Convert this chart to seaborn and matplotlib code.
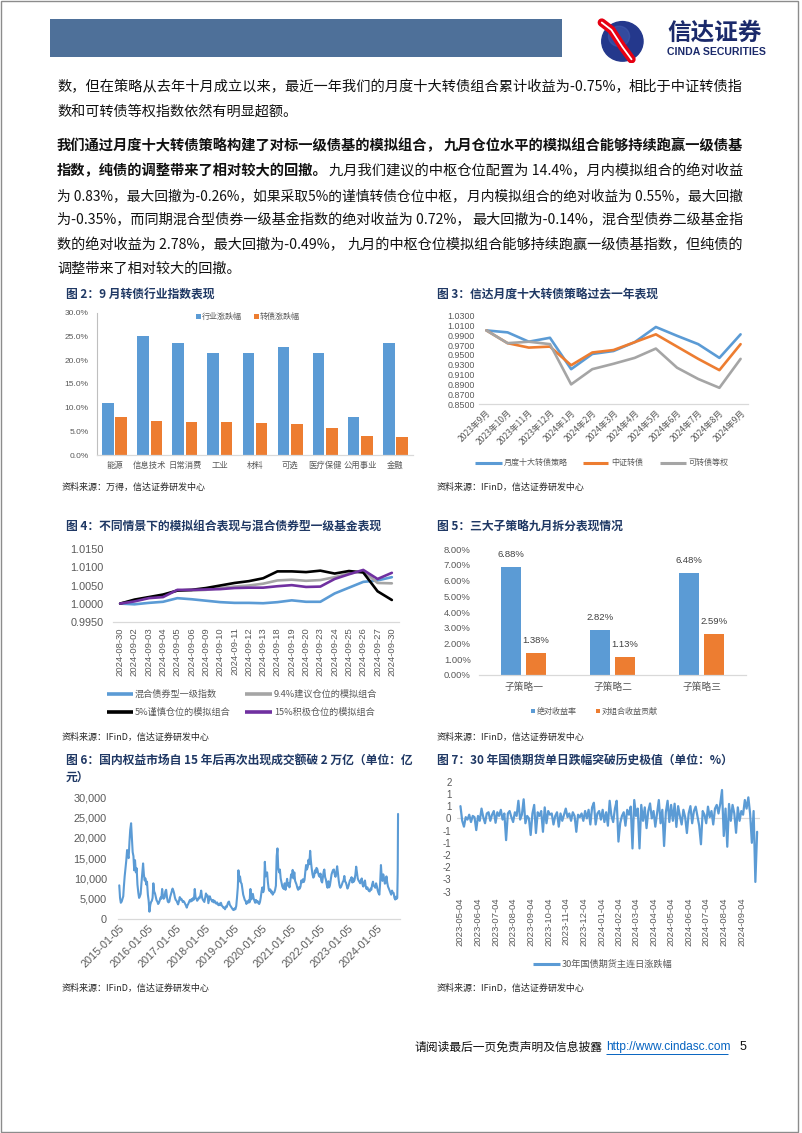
import numpy as np
import pandas as pd
import matplotlib
matplotlib.use('Agg')
import matplotlib.pyplot as plt
import seaborn as sns
from matplotlib.patches import Rectangle, Circle
from matplotlib.lines import Line2D

sns.set_style('white')
plt.rcParams['font.family'] = ['Liberation Sans', 'Noto Sans CJK SC', 'DejaVu Sans']
plt.rcParams['axes.unicode_minus'] = False

# ------------------------------------------------------------------ data
# Fig 2
industries = ['能源', '信息技术', '日常消费', '工业', '材料', '可选', '医疗保健', '公用事业', '金融']
fig2_series = ['行业涨跌幅', '转债涨跌幅']
industry_chg = [10.9, 25.2, 23.7, 21.6, 21.5, 22.8, 21.6, 8.1, 23.6]
cb_chg = [8.0, 7.1, 6.9, 6.9, 6.7, 6.6, 5.6, 4.0, 3.8]
fig2_yticks = [0, 5, 10, 15, 20, 25, 30]

# Fig 3
months3 = ['2023年9月', '2023年10月', '2023年11月', '2023年12月', '2024年1月', '2024年2月',
           '2024年3月', '2024年4月', '2024年5月', '2024年6月', '2024年7月', '2024年8月', '2024年9月']
fig3_series = ['月度十大转债策略', '中证转债', '可转债等权']
strategy = [1.000, 0.996, 0.977, 0.985, 0.921, 0.952, 0.958, 0.976, 1.007, 0.989, 0.972, 0.944, 0.992]
csi_cb = [1.000, 0.974, 0.965, 0.967, 0.929, 0.955, 0.960, 0.976, 0.992, 0.967, 0.942, 0.919, 0.972]
cb_equal = [1.000, 0.974, 0.977, 0.972, 0.890, 0.921, 0.932, 0.944, 0.963, 0.924, 0.901, 0.883, 0.942]
fig3_yticks = [0.85, 0.87, 0.89, 0.91, 0.93, 0.95, 0.97, 0.99, 1.01, 1.03]

# Fig 4
dates4 = ['2024-08-30', '2024-09-02', '2024-09-03', '2024-09-04', '2024-09-05', '2024-09-06',
          '2024-09-09', '2024-09-10', '2024-09-11', '2024-09-12', '2024-09-13', '2024-09-18',
          '2024-09-19', '2024-09-20', '2024-09-23', '2024-09-24', '2024-09-25', '2024-09-26',
          '2024-09-27', '2024-09-30']
fig4_series = ['混合债券型一级指数', '9.4%建议仓位的模拟组合', '5%谨慎仓位的模拟组合', '15%积极仓位的模拟组合']
bond_fund_idx = [1.0000, 0.9998, 1.0002, 1.0005, 1.0015, 1.0012, 1.0008, 1.0004, 1.0002, 1.0002,
                 1.0001, 1.0004, 1.0009, 1.0005, 1.0005, 1.0028, 1.0044, 1.0060, 1.0064, 1.0073]
sim_94 = [1.0000, 1.0009, 1.0016, 1.0023, 1.0036, 1.0036, 1.0038, 1.0043, 1.0047, 1.0050,
          1.0055, 1.0064, 1.0066, 1.0063, 1.0065, 1.0073, 1.0083, 1.0090, 1.0057, 1.0056]
sim_5 = [1.0000, 1.0011, 1.0018, 1.0025, 1.0036, 1.0038, 1.0043, 1.0050, 1.0057, 1.0062,
         1.0070, 1.0089, 1.0089, 1.0087, 1.0091, 1.0083, 1.0090, 1.0086, 1.0034, 1.0010]
sim_15 = [1.0000, 1.0006, 1.0015, 1.0018, 1.0038, 1.0038, 1.0039, 1.0040, 1.0043, 1.0044,
          1.0044, 1.0048, 1.0051, 1.0046, 1.0047, 1.0068, 1.0081, 1.0093, 1.0068, 1.0085]
fig4_yticks = [0.995, 1.000, 1.005, 1.010, 1.015]

# Fig 5
subs = ['子策略一', '子策略二', '子策略三']
fig5_series = ['绝对收益率', '对组合收益贡献']
abs_ret = [6.88, 2.82, 6.48]
contrib = [1.38, 1.13, 2.59]
fig5_yticks = [0, 1, 2, 3, 4, 5, 6, 7, 8]

# Fig 6 : A-share turnover (亿元), three readings per month
t2015 = [8300, 5200, 4000, 4300, 5000, 5600, 8000, 10500, 12500, 14500, 17000, 15500,
         15000, 19000, 22000, 23600, 20000, 16500, 15500, 12000, 14500, 11500, 12500, 8500,
         6500, 5200, 5600, 6200, 8800, 11000, 13700, 11000, 9500, 10000, 8500, 9200]
t2016 = [6000, 4500, 1800, 3500, 4200, 4500, 5200, 8800, 6800, 6300, 5500, 4600,
         4300, 3700, 4000, 4600, 5300, 5000, 7400, 5800, 5000, 5300, 6800, 7200,
         5300, 4300, 4100, 4300, 5400, 6100, 6800, 7500, 7000, 6300, 5300, 4700]
t2017 = [4500, 4000, 3600, 4400, 5400, 4800, 5000, 4700, 4200, 4400, 4100, 3700,
         3300, 2800, 3400, 3800, 4300, 4700, 4300, 4900, 4500, 5200, 4800, 7400,
         5200, 5000, 4500, 4800, 5300, 5100, 5900, 7000, 5400, 4800, 4500, 4200]
t2018 = [5200, 6300, 5600, 5800, 3900, 4800, 5600, 5000, 4700, 4300, 4700, 4100,
         4500, 4000, 3800, 4100, 3600, 3400, 3800, 3400, 4000, 3300, 3100, 2800,
         2800, 2400, 3100, 2900, 3500, 4100, 4300, 3500, 3200, 2900, 2600, 2300]
t2019 = [2200, 2600, 2400, 3200, 5300, 7800, 12000, 9300, 10500, 9000, 8700, 7300,
         6000, 5300, 4700, 4400, 3700, 4300, 4000, 4600, 4100, 7400, 4800, 5200,
         6200, 5100, 4500, 4000, 4700, 4100, 4400, 3900, 3700, 4200, 5300, 6800]
t2020 = [7800, 6600, 7300, 14100, 10500, 11000, 11500, 9000, 7400, 6900, 7300, 6500,
         6800, 6000, 6400, 6600, 7200, 8200, 15500, 17400, 12500, 11500, 12200, 10000,
         9000, 8000, 7600, 7400, 8800, 7200, 8500, 9900, 8200, 8800, 7800, 9200]
t2021 = [11000, 10300, 12100, 10000, 11500, 9400, 9000, 8500, 7700, 7200, 7800, 7500,
         8000, 9500, 9000, 9800, 9100, 9600, 11600, 13300, 12200, 12800, 14600, 13500,
         16800, 14200, 12400, 11000, 10200, 10500, 12000, 11400, 12600, 12300, 11400, 10700]
t2022 = [10400, 11200, 9400, 9000, 10500, 11800, 12200, 10300, 9700, 8400, 7700, 9300,
         7800, 8300, 9600, 11000, 11600, 12100, 12200, 11000, 10400, 11500, 13000, 11400,
         9400, 8200, 7700, 8000, 8500, 9100, 9500, 10600, 9200, 9000, 8200, 7500]
t2023 = [8000, 8800, 9500, 9800, 10300, 9000, 10000, 9200, 9600, 11000, 12900, 11400,
         10000, 9500, 9200, 8800, 9500, 10000, 8500, 8000, 9000, 9500, 8000, 7400,
         7800, 7200, 6900, 6800, 7500, 7200, 8500, 9200, 8200, 8000, 7700, 8800]
t2024 = [8000, 7000, 6400, 6000, 9000, 13300, 10500, 9400, 11000, 10000, 8700, 9000,
         10500, 9000, 8000, 7500, 7000, 6500, 6000, 7000, 6500, 6400, 5200, 4800]
t2024_sep = [5500, 5000, 5200, 9400, 11700, 14400, 25900]
t2024_sep_days = [2, 12, 20, 24, 26, 27, 30]
fig6_ticks = ['2015-01-05', '2016-01-05', '2017-01-05', '2018-01-05', '2019-01-05',
              '2020-01-05', '2021-01-05', '2022-01-05', '2023-01-05', '2024-01-05']
fig6_yticks = [0, 5000, 10000, 15000, 20000, 25000, 30000]

# Fig 7 : 30Y treasury futures daily change (%)
fut_chg = [0.50, -0.10, -0.34, 0.05, -0.05, 0.15, -0.15, 0.10, 0.05, -0.48,
           0.10, -0.10, 0.40, 0.05, -0.20, 0.20, 0.25, -0.10, 0.15, 0.30,
           -0.18, 0.25, 0.10, 0.35, -0.05, 0.20, -0.89, 0.20, 0.30, 0.05,
           -0.15, 0.25, 0.10, 0.72, -0.05, 0.15, 0.78, -0.20, 0.10, 0.00,
           -0.68, 0.20, 0.55, -0.60, 0.25, 0.10, 0.30, -0.55, 0.45, -0.20,
           0.30, 0.15, 0.20, -0.25, 0.10, 0.25, -0.34, 0.20, -0.10, 0.15,
           0.40, 0.05, 0.20, -0.10, 0.25, 0.10, -0.55, 0.15, 0.05, 0.20,
           -0.10, 0.30, 0.00, 0.35, -0.25, 0.45, 0.64, -0.25, 0.20, 0.30,
           -0.05, 0.35, -0.15, 0.25, -0.30, 0.72, 0.10, -0.15, 0.40, 0.72,
           -0.95, -0.20, 0.10, 0.25, -0.30, 0.35, 0.15, 0.48, -1.23, 0.75,
           0.10, 0.40, -1.23, 0.55, -0.10, 0.45, -0.40, 0.30, 0.61, 0.00,
           0.30, -0.34, 0.20, 0.75, -0.20, 0.35, -1.13, 0.25, 0.72, -0.15,
           0.55, -0.10, 0.60, -0.35, 0.50, 0.10, -0.25, 0.35, 0.05, -0.60,
           0.20, 0.50, -0.20, 0.30, 0.48, 0.10, -0.30, -1.06, 0.30, 0.15,
           -0.20, 0.48, 0.05, 0.30, -0.25, 0.40, 0.55, 0.20, 0.60, 1.16,
           -0.72, 0.40, -1.16, 0.59, -0.10, 0.55, 0.20, -0.59, 0.45, -0.10,
           0.30, 0.15, 0.75, 0.40, 0.86, 0.20, -1.00, 0.30, -2.60, -0.55]
fig7_ticks = ['2023-05-04', '2023-06-04', '2023-07-04', '2023-08-04', '2023-09-04', '2023-10-04',
              '2023-11-04', '2023-12-04', '2024-01-04', '2024-02-04', '2024-03-04', '2024-04-04',
              '2024-05-04', '2024-06-04', '2024-07-04', '2024-08-04', '2024-09-04']
fig7_yticks = [-3.0, -2.5, -2.0, -1.5, -1.0, -0.5, 0.0, 0.5, 1.0, 1.5]
fig7_ylabels = ['-3', '-3', '-2', '-2', '-1', '-1', '0', '1', '1', '2']

# ------------------------------------------------------------------ styling
W, H = 802, 1133
BLUE = '#5B9BD5'; ORANGE = '#ED7D31'; GRAY = '#A5A5A5'; PURPLE = '#7030A0'; BLACK = '#000000'
TITLE_C = '#1F3864'; TICK_C = '#595959'; AXIS_C = '#D9D9D9'
CJK = ['Noto Sans CJK SC', 'DejaVu Sans']

fig = plt.figure(figsize=(W / 100, H / 100), dpi=100)
renderer = fig.canvas.get_renderer()


def fy(y):
    return 1 - y / H


def add_ax(l, t, r, b):
    return fig.add_axes([l / W, 1 - b / H, (r - l) / W, (b - t) / H])


def ftext(x, y, s, **kw):
    kw.setdefault('va', 'center')
    return fig.text(x / W, fy(y), s, **kw)


def fline(x0, x1, y, color, lw):
    fig.add_artist(Line2D([x0 / W, x1 / W], [fy(y), fy(y)], color=color, lw=lw,
                          transform=fig.transFigure, solid_capstyle='butt'))


def fsquare(x, y, color, size=5):
    fig.add_artist(Rectangle((x / W, fy(y + size / 2)), size / W, size / H, color=color,
                             transform=fig.transFigure, lw=0))


def style(ax, left=False, fs=7):
    for s in ['top', 'right']:
        ax.spines[s].set_visible(False)
    ax.spines['left'].set_visible(left)
    ax.spines['left'].set_color('#BFBFBF')
    ax.spines['bottom'].set_color(AXIS_C)
    ax.spines['bottom'].set_linewidth(0.9)
    ax.set_xlabel('')
    ax.set_ylabel('')
    ax.tick_params(length=0, colors=TICK_C, labelsize=fs)
    ax.set_facecolor('none')


def title(x, y, s):
    ftext(x, y, s, fontsize=8.5, fontweight='bold', color=TITLE_C, family=CJK)


def source(x, y, s):
    ftext(x, y, s, fontsize=6.5, color='#262626', family=CJK, style='italic')


# ------------------------------------------------------------------ page
fig.add_artist(Rectangle((1 / W, 1 / H), 797 / W, 1131 / H, fill=False, ec='#8C8C8C', lw=1,
                         transform=fig.transFigure))
fig.add_artist(Rectangle((50 / W, fy(57)), 512 / W, 38 / H, color='#4E7099', lw=0,
                         transform=fig.transFigure))
# logo
axl = add_ax(596, 17, 644, 63)
axl.set_xlim(0, 1); axl.set_ylim(0, 1); axl.axis('off')
axl.add_patch(Circle((0.55, 0.47), 0.43, color='#24388C'))
axl.add_patch(Circle((0.48, 0.58), 0.22, color='#4660B5', alpha=0.45))
axl.plot([0.12, 0.32, 0.55, 0.74], [0.88, 0.72, 0.35, 0.08], color='#E60012', lw=6, solid_capstyle='round')
axl.plot([0.12, 0.32, 0.55, 0.74], [0.88, 0.72, 0.35, 0.08], color='white', lw=1.3)
ftext(667, 33, '信达证券', fontsize=17, fontweight='bold', color='#1B2A6B', family=CJK)
ftext(667, 52, 'CINDA SECURITIES', fontsize=7.6, fontweight='bold', color='#1B2A6B')

# ------------------------------------------------------------------ body text
BFS = 10.2
LEFT, RIGHT = 57, 743
body = [
    (87, [('数，但在策略从去年十月成立以来，最近一年我们的月度十大转债组合累计收益为-0.75%，', 'normal', 'L'),
          ('相比于中证转债指', 'normal', 'R')]),
    (112, [('数和可转债等权指数依然有明显超额。', 'normal', 'L')]),
    (146, [('我们通过月度十大转债策略构建了对标一级债基的模拟组合，', 'bold', 'L'),
           ('九月仓位水平的模拟组合能够持续跑赢一级债基', 'bold', 'R')]),
    (171, [('指数，纯债的调整带来了相对较大的回撤。', 'bold', 'L'),
           ('九月我们建议的中枢仓位配置为 14.4%，月内模拟组合的绝对收益', 'normal', 'R')]),
    (196, [('为 0.83%，最大回撤为-0.26%，如果采取5%的谨慎转债仓位中枢，', 'normal', 'L'),
           ('月内模拟组合的绝对收益为 0.55%，最大回撤', 'normal', 'R')]),
    (220, [('为-0.35%，而同期混合型债券一级基金指数的绝对收益为 0.72%，', 'normal', 'L'),
           ('最大回撤为-0.14%，混合型债券二级基金指', 'normal', 'R')]),
    (245, [('数的绝对收益为 2.78%，最大回撤为-0.49%，', 'normal', 'L'),
           ('九月的中枢仓位模拟组合能够持续跑赢一级债基指数，但纯债的', 'normal', 'R')]),
    (269, [('调整带来了相对较大的回撤。', 'normal', 'L')]),
]
for y, parts in body:
    objs = []
    for s, wt, al in parts:
        x = LEFT if al == 'L' else RIGHT
        t = ftext(x, y, s, fontsize=BFS, fontweight=wt, family=CJK, color='#111111',
                  ha='left' if al == 'L' else 'right')
        objs.append(t)
    if len(objs) > 1:
        total = sum(o.get_window_extent(renderer).width for o in objs)
        fs = BFS * (RIGHT - LEFT - 3) / total
        for o in objs:
            o.set_fontsize(fs)

# ------------------------------------------------------------------ Fig 2
title(66, 295, '图 2：9 月转债行业指数表现')
ax2 = add_ax(97, 313, 413, 455)
df2 = pd.DataFrame({'cat': industries * 2, 'val': industry_chg + cb_chg,
                    'ser': [fig2_series[0]] * len(industries) + [fig2_series[1]] * len(industries)})
sns.barplot(data=df2, x='cat', y='val', hue='ser', order=industries, hue_order=fig2_series,
            palette=[BLUE, ORANGE], saturation=1, width=0.76, gap=0.13, errorbar=None,
            legend=False, ax=ax2, linewidth=0)
style(ax2, left=True, fs=6)
ax2.set_xlim(-0.5, len(industries) - 0.5)
ax2.set_ylim(0, 30)
ax2.set_yticks(fig2_yticks)
ax2.set_yticklabels([f'{v:.1f}%' for v in fig2_yticks])
ax2.tick_params(axis='y', pad=6)
ax2.tick_params(axis='x', pad=4)
for lab in ax2.get_xticklabels():
    lab.set_family(CJK)
fsquare(196, 316.5, BLUE)
ftext(202, 316.5, fig2_series[0], fontsize=5.8, color=TICK_C, family=CJK)
fsquare(254, 316.5, ORANGE)
ftext(260, 316.5, fig2_series[1], fontsize=5.8, color=TICK_C, family=CJK)
source(62, 487, '资料来源：万得，信达证券研发中心')

# ------------------------------------------------------------------ Fig 3
title(437, 295, '图 3：信达月度十大转债策略过去一年表现')
ax3 = add_ax(479, 315.7, 748, 404)
n3 = len(months3)
df3 = pd.DataFrame({'i': list(range(n3)) * 3, 'v': strategy + csi_cb + cb_equal,
                    's': [s for s in fig3_series for _ in range(n3)]})
sns.lineplot(data=df3, x='i', y='v', hue='s', hue_order=fig3_series,
             palette=[BLUE, ORANGE, GRAY], lw=1.9, legend=False, ax=ax3)
style(ax3, fs=6.4)
ax3.set_xlim(-0.35, n3 - 1 + 0.35)
ax3.set_ylim(0.85, 1.03)
ax3.set_yticks(fig3_yticks)
ax3.set_yticklabels([f'{v:.4f}' for v in fig3_yticks])
ax3.tick_params(axis='y', pad=3)
ax3.set_xticks(range(n3))
ax3.set_xticklabels(months3, rotation=45, ha='right', rotation_mode='anchor', family=CJK, fontsize=6.2)
ax3.tick_params(axis='x', pad=3)
for (x0, x1, tx), c, s in zip([(475, 502, 504), (583, 608, 611), (660, 686, 689)],
                              [BLUE, ORANGE, GRAY], fig3_series):
    fline(x0, x1, 462.5, c, 2.2)
    ftext(tx, 462.5, s, fontsize=5.8, color=TICK_C, family=CJK)
source(437, 487, '资料来源：IFinD，信达证券研发中心')

# ------------------------------------------------------------------ Fig 4
title(66, 527, '图 4：不同情景下的模拟组合表现与混合债券型一级基金表现')
ax4 = add_ax(113, 549.3, 399, 621.7)
n4 = len(dates4)
df4 = pd.DataFrame({'i': list(range(n4)) * 4, 'v': bond_fund_idx + sim_94 + sim_5 + sim_15,
                    's': [s for s in fig4_series for _ in range(n4)]})
sns.lineplot(data=df4, x='i', y='v', hue='s', hue_order=fig4_series,
             palette=[BLUE, GRAY, BLACK, PURPLE], lw=1.9, legend=False, ax=ax4)
style(ax4, fs=7.8)
ax4.set_xlim(-0.5, n4 - 0.5)
ax4.set_ylim(0.995, 1.015)
ax4.set_yticks(fig4_yticks)
ax4.set_yticklabels([f'{v:.4f}' for v in fig4_yticks])
ax4.tick_params(axis='y', pad=7)
ax4.set_xticks(range(n4))
ax4.set_xticklabels(dates4, rotation=90, fontsize=6.8)
ax4.tick_params(axis='x', pad=4)
leg4 = [((107, 133, 135, 694), BLUE), ((245, 272, 274, 694), GRAY),
        ((107, 133, 135, 712), BLACK), ((245, 272, 274, 712), PURPLE)]
for ((x0, x1, tx, y), c), s in zip(leg4, fig4_series):
    fline(x0, x1, y, c, 2.6)
    ftext(tx, y, s, fontsize=6.6, color=TICK_C, family=CJK)
source(62, 737, '资料来源：IFinD，信达证券研发中心')

# ------------------------------------------------------------------ Fig 5
title(437, 527, '图 5：三大子策略九月拆分表现情况')
ax5 = add_ax(479, 549.3, 746, 674.7)
df5 = pd.DataFrame({'cat': subs * 2, 'val': abs_ret + contrib,
                    'ser': [fig5_series[0]] * 3 + [fig5_series[1]] * 3})
sns.barplot(data=df5, x='cat', y='val', hue='ser', order=subs, hue_order=fig5_series,
            palette=[BLUE, ORANGE], saturation=1, width=0.56, gap=0.22, errorbar=None,
            legend=False, ax=ax5, linewidth=0)
style(ax5, fs=6.8)
ax5.set_xlim(-0.5, 2.5)
ax5.set_ylim(0, 8)
ax5.set_yticks(fig5_yticks)
ax5.set_yticklabels([f'{v:.2f}%' for v in fig5_yticks])
ax5.tick_params(axis='y', pad=6)
ax5.tick_params(axis='x', pad=5, labelsize=7)
for lab in ax5.get_xticklabels():
    lab.set_family(CJK)
for cont, vals in zip(ax5.containers, [abs_ret, contrib]):
    ax5.bar_label(cont, labels=[f'{v:.2f}%' for v in vals], padding=6, fontsize=6.8, color='#404040')
fsquare(531, 711, BLUE, 4)
ftext(537, 711, fig5_series[0], fontsize=5.8, color=TICK_C, family=CJK)
fsquare(596, 711, ORANGE, 4)
ftext(602, 711, fig5_series[1], fontsize=5.8, color=TICK_C, family=CJK)
source(437, 737, '资料来源：IFinD，信达证券研发中心')

# ------------------------------------------------------------------ Fig 6
title(66, 760, '图 6：国内权益市场自 15 年后再次出现成交额破 2 万亿（单位：亿')
title(66, 777, '元）')
turnover = t2015 + t2016 + t2017 + t2018 + t2019 + t2020 + t2021 + t2022 + t2023 + t2024 + t2024_sep
dates6 = [pd.Timestamp(y, m, d) for y in range(2015, 2024) for m in range(1, 13) for d in (5, 15, 25)]
dates6 += [pd.Timestamp(2024, m, d) for m in range(1, 9) for d in (5, 15, 25)]
dates6 += [pd.Timestamp(2024, 9, d) for d in t2024_sep_days]
df6 = pd.DataFrame({'date': dates6, 'v': turnover})
ax6 = add_ax(118, 797.3, 400, 919)
sns.lineplot(data=df6, x='date', y='v', color=BLUE, lw=1.5, ax=ax6)
style(ax6, fs=7.8)
ax6.set_xlim(pd.Timestamp('2014-12-20'), pd.Timestamp('2024-10-25'))
ax6.set_ylim(0, 30000)
ax6.set_yticks(fig6_yticks)
ax6.set_yticklabels([f'{v:,}' for v in fig6_yticks])
ax6.tick_params(axis='y', pad=8)
ax6.set_xticks(pd.to_datetime(fig6_ticks))
ax6.set_xticklabels(fig6_ticks, rotation=45, ha='right', rotation_mode='anchor', fontsize=7.8)
ax6.tick_params(axis='x', pad=3)
source(62, 988, '资料来源：IFinD，信达证券研发中心')

# ------------------------------------------------------------------ Fig 7
title(437, 760, '图 7：30 年国债期货单日跌幅突破历史极值（单位：%）')
ax7 = add_ax(457, 781.7, 760, 891.7)
dates7 = pd.date_range('2023-05-04', '2024-09-30', periods=len(fut_chg))
df7 = pd.DataFrame({'date': dates7, 'v': fut_chg})
ax7.axhline(0, color=AXIS_C, lw=0.9, zorder=0)
sns.lineplot(data=df7, x='date', y='v', color=BLUE, lw=1.6, ax=ax7)
style(ax7, fs=7)
ax7.spines['bottom'].set_visible(False)
ax7.set_xlim(pd.Timestamp('2023-04-28'), pd.Timestamp('2024-10-05'))
ax7.set_ylim(-3, 1.5)
ax7.set_yticks(fig7_yticks)
ax7.set_yticklabels(fig7_ylabels)
ax7.tick_params(axis='y', pad=4)
ax7.set_xticks(pd.to_datetime(fig7_ticks))
ax7.set_xticklabels(fig7_ticks, rotation=90, fontsize=6.8)
ax7.tick_params(axis='x', pad=4)
fline(533, 560, 964, BLUE, 2.2)
ftext(562, 964, '30年国债期货主连日涨跌幅', fontsize=6.6, color=TICK_C, family=CJK)
source(437, 988, '资料来源：IFinD，信达证券研发中心')

# ------------------------------------------------------------------ footer
ftext(414, 1047, '请阅读最后一页免责声明及信息披露', fontsize=8.5, color='#111111', family=CJK)
ftext(606, 1047, 'http://www.cindasc.com', fontsize=8.6, color='#0563C1')
fline(606, 728, 1053.5, '#0563C1', 0.7)
ftext(740, 1047, '5', fontsize=9, color='#111111')

fig.savefig('out.png', dpi=100)
